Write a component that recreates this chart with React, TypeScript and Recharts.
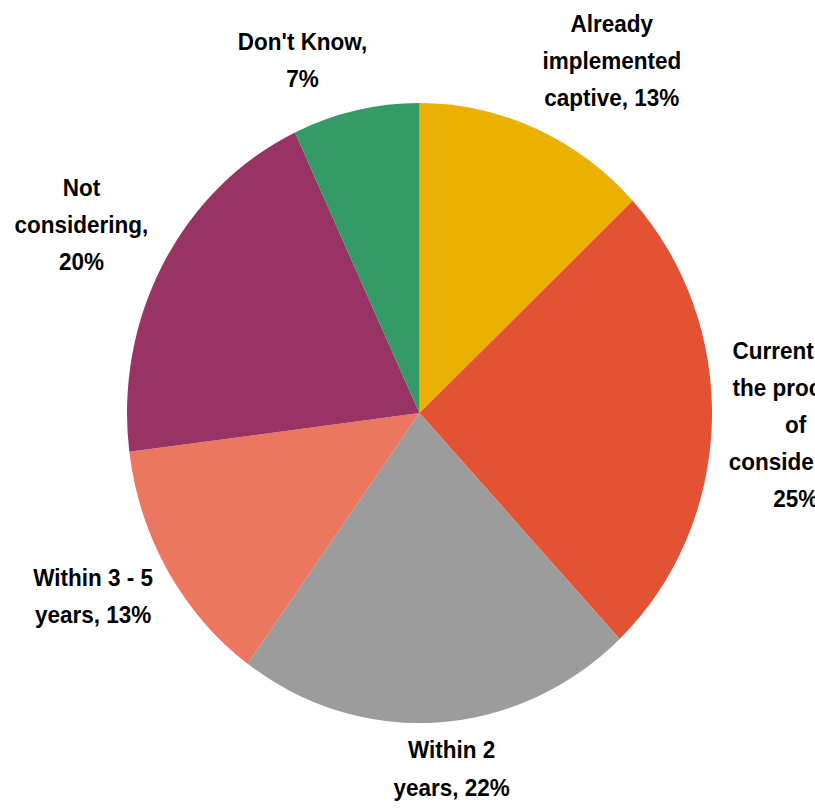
import { PieChart, Pie, Cell } from 'recharts';

// survey answers, share of respondents (%)
const categories = [
  'Already implemented captive',
  'Currently in the process of considering',
  'Within 2 years',
  'Within 3 - 5 years',
  'Not considering',
  "Don't Know",
];
const shares = [13, 25, 22, 13, 20, 7];
const sliceColors = ['#EBB000', '#E45234', '#9C9C9C', '#EB7761', '#973464', '#349A66'];

const data = categories.map((name, i) => ({ name, value: shares[i] }));

// the original picture is slightly stretched vertically
const SCALE_Y = 310 / 292.5;
const WIDTH = 815;
const HEIGHT = Math.round(809 / SCALE_Y);

const FONT_SIZE = 22.5;
const LINE_H = 35;
const FONT = `bold ${FONT_SIZE}px "Liberation Sans", Arial, sans-serif`;
const WRAP_WIDTH = 145;
const GAP = 17;

let ctx: CanvasRenderingContext2D | null = null;
function measure(s: string): number {
  if (!ctx) {
    ctx = document.createElement('canvas').getContext('2d');
    if (ctx) ctx.font = FONT;
  }
  return ctx ? ctx.measureText(s).width : s.length * FONT_SIZE * 0.55;
}

function wrap(text: string): string[] {
  const words = text.split(' ');
  const lines: string[] = [];
  let cur = '';
  for (const w of words) {
    const next = cur ? `${cur} ${w}` : w;
    if (cur && measure(next) > WRAP_WIDTH) {
      lines.push(cur);
      cur = w;
    } else {
      cur = next;
    }
  }
  if (cur) lines.push(cur);
  return lines;
}

const clamp = (v: number) => Math.max(-1, Math.min(1, v));

// outside-end label, pushed away from the slice edge like a spreadsheet pie
function renderLabel(props: any) {
  const { cx, cy, midAngle, outerRadius, index } = props;
  const a = (midAngle * Math.PI) / 180;
  const ux = Math.cos(a);
  const uy = -Math.sin(a);
  const lines = wrap(`${categories[index]}, ${shares[index]}%`);
  const w = Math.max(...lines.map(measure));
  const h = (lines.length - 1) * LINE_H + FONT_SIZE;
  const fx = clamp(3.5 * ux);
  const fy = clamp(1.2 * uy);
  const x = cx + (outerRadius + GAP) * ux + (fx * w) / 2;
  const y = cy + (outerRadius + GAP) * uy + (fy * h) / 2;
  const top = y - h / 2;
  return (
    <text
      key={`lbl-${index}`}
      x={x}
      y={top}
      textAnchor="middle"
      fill="#000"
      style={{ font: FONT }}
    >
      {lines.map((l, i) => (
        <tspan key={i} x={x} y={top + FONT_SIZE * 0.76 + i * LINE_H}>
          {l}
        </tspan>
      ))}
    </text>
  );
}

export default function App() {
  return (
    <div
      style={{
        position: 'absolute',
        left: 0,
        top: 0,
        width: WIDTH,
        height: HEIGHT,
        background: '#fff',
        transform: `scaleY(${SCALE_Y})`,
        transformOrigin: 'top left',
      }}
    >
      <PieChart width={WIDTH} height={HEIGHT} margin={{ top: 0, right: 0, bottom: 0, left: 0 }}>
        <Pie
          data={data}
          dataKey="value"
          nameKey="name"
          cx={419.5}
          cy={413 / SCALE_Y}
          outerRadius={292.5}
          startAngle={90}
          endAngle={-270}
          stroke="none"
          labelLine={false}
          label={renderLabel}
          isAnimationActive={false}
        >
          {data.map((d, i) => (
            <Cell key={d.name} fill={sliceColors[i]} />
          ))}
        </Pie>
      </PieChart>
    </div>
  );
}
